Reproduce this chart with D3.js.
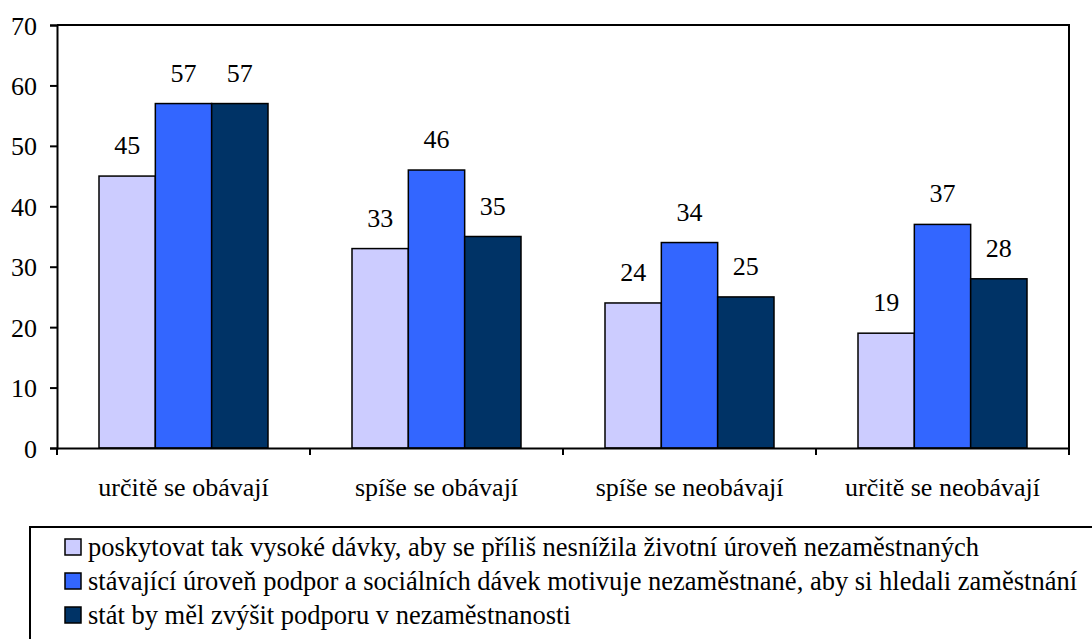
<!DOCTYPE html>
<meta charset="utf-8">
<head>
<title>Chart</title>
<style>
  body { margin: 0; background: #fff; }
  text { font-family: "Liberation Serif", "Times New Roman", serif; fill: #000; }
</style>
<script src="https://d3js.org/d3.v7.min.js"></script>
</head>
<body>
<svg width="1092" height="639"></svg>
<script>
// data
var categories = ["určitě se obávají", "spíše se obávají", "spíše se neobávají", "určitě se neobávají"];
var seriesNames = [
  "poskytovat tak vysoké dávky, aby se příliš nesnížila životní úroveň nezaměstnaných",
  "stávající úroveň podpor a sociálních dávek motivuje nezaměstnané, aby si hledali zaměstnání",
  "stát by měl zvýšit podporu v nezaměstnanosti"
];
var seriesA = [45, 33, 24, 19];
var seriesB = [57, 46, 34, 37];
var seriesC = [57, 35, 25, 28];
var yTicks = [0, 10, 20, 30, 40, 50, 60, 70];
var colors = ["#CCCCFF", "#3366FF", "#003366"];

var series = [seriesA, seriesB, seriesC];
var fs = 26;

var svg = d3.select("svg"),
    pLeft = 57, pRight = 1069, pTop = 25, pBottom = 448;

var x0 = d3.scaleBand().domain(categories).range([pLeft, pRight]).paddingInner(0).paddingOuter(0);
var x1 = d3.scaleBand().domain(d3.range(3)).range([42, x0.bandwidth() - 42]);
var y = d3.scaleLinear().domain([0, 70]).range([pBottom, pTop]);

// plot frame (top and right)
svg.append("path")
  .attr("d", "M" + pLeft + "," + pTop + "H" + pRight + "V" + pBottom)
  .attr("fill", "none").attr("stroke", "#000").attr("stroke-width", 2);

// bars
var g = svg.append("g");
categories.forEach(function(c, i) {
  series.forEach(function(s, j) {
    g.append("rect")
      .attr("x", x0(c) + x1(j))
      .attr("y", y(s[i]))
      .attr("width", x1.bandwidth())
      .attr("height", y(0) - y(s[i]))
      .attr("fill", colors[j])
      .attr("stroke", "#000")
      .attr("stroke-width", 1.5);
    g.append("text")
      .attr("x", x0(c) + x1(j) + x1.bandwidth() / 2)
      .attr("y", y(s[i]) - 22)
      .attr("text-anchor", "middle")
      .attr("font-size", fs)
      .text(s[i]);
  });
});

// y axis
var yAxis = svg.append("g")
  .attr("transform", "translate(" + pLeft + ",0)")
  .call(d3.axisLeft(y).tickValues(yTicks).tickSize(7).tickPadding(13));
yAxis.attr("font-family", null);
yAxis.select(".domain").attr("stroke-width", 2);
yAxis.selectAll(".tick line").attr("stroke-width", 2);
yAxis.selectAll("text").attr("font-size", fs).attr("dy", "0.35em");

// x axis
var xAxis = svg.append("g")
  .attr("transform", "translate(0," + pBottom + ")")
  .call(d3.axisBottom(x0).tickSize(0).tickPadding(30));
xAxis.attr("font-family", null);
xAxis.select(".domain").attr("stroke-width", 2);
xAxis.selectAll("text").attr("font-size", fs);
xAxis.selectAll(".sep")
  .data(d3.range(categories.length + 1))
  .enter().append("line")
  .attr("x1", function(d) { return pLeft + d * x0.bandwidth(); })
  .attr("x2", function(d) { return pLeft + d * x0.bandwidth(); })
  .attr("y1", 0).attr("y2", 7)
  .attr("stroke", "#000").attr("stroke-width", 2);

// legend
var leg = svg.append("g");
leg.append("rect")
  .attr("x", 30).attr("y", 527).attr("width", 1080).attr("height", 130)
  .attr("fill", "#fff").attr("stroke", "#000").attr("stroke-width", 2);
seriesNames.forEach(function(name, j) {
  var cy = 547 + j * 34;
  leg.append("rect")
    .attr("x", 65).attr("y", cy - 8).attr("width", 16).attr("height", 16)
    .attr("fill", colors[j]).attr("stroke", "#000").attr("stroke-width", 1.5);
  leg.append("text")
    .attr("x", 88).attr("y", cy).attr("dy", "0.35em")
    .attr("font-size", 26.5)
    .text(name);
});
</script>
</body>
